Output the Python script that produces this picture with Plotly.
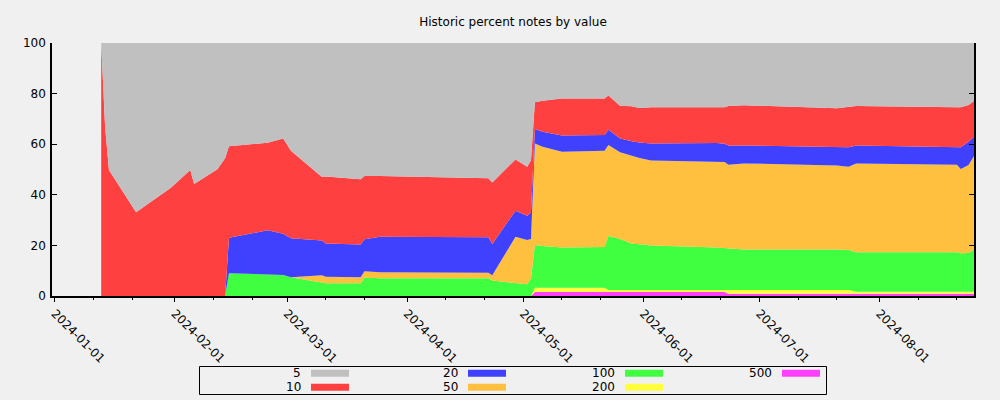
import plotly.graph_objects as go

# ---------------- data ----------------
dates = ["2024-01-13", "2024-01-14", "2024-01-15", "2024-01-22", "2024-01-31",
         "2024-02-05", "2024-02-06", "2024-02-12", "2024-02-14", "2024-02-15",
         "2024-02-25", "2024-02-29", "2024-03-02", "2024-03-10", "2024-03-11",
         "2024-03-20", "2024-03-21", "2024-03-25", "2024-04-22", "2024-04-23",
         "2024-04-29", "2024-05-02", "2024-05-03", "2024-05-04", "2024-05-06",
         "2024-05-11", "2024-05-22", "2024-05-23", "2024-05-26", "2024-05-29",
         "2024-05-31", "2024-06-03", "2024-06-20", "2024-06-22", "2024-06-23",
         "2024-06-27", "2024-07-21", "2024-07-24", "2024-07-26", "2024-08-21",
         "2024-08-22", "2024-08-24", "2024-08-25 10:00"]

v500 = [0] * 23 + [1.6] * 11 + [0.9] * 9
v200 = [0] * 23 + [1.7] * 4 + [0.8] * 7 + [1.5] * 4 + [0.8] * 5
v100 = [0] * 9 + [9.0, 8.6, 8.3, 7.4, 5.3, 5.0, 5.0, 7.2, 7.0, 7.0, 6.1, 5.1, 4.6, 7.0,
                  16.9, 16.5, 15.9, 16.1, 21.3, 20.1, 18.4, 18.1, 17.6, 16.8, 16.6,
                  16.5, 16.0, 16.0, 15.8, 15.6, 15.6, 15.2, 15.3, 16.7]
v50 = [0] * 9 + [0, 0, 0, 0, 2.9, 2.6, 2.4, 2.6, 2.4, 2.2, 2.1, 18.3, 17.5, 15.5,
                 40.1, 39.2, 37.8, 38.0, 36.0, 34.3, 34.5, 34.0, 33.6, 33.9, 34.0,
                 33.0, 34.0, 33.2, 32.9, 35.1, 34.6, 33.3, 34.8, 36.9]
v20 = [0] * 9 + [14.0, 17.4, 16.3, 15.4, 13.7, 13.2, 13.0, 12.6, 14.0, 14.0, 12.4, 10.3, 9.6, 10.5,
                 5.7, 5.9, 6.4, 6.2, 6.0, 5.5, 5.9, 6.2, 6.7, 7.4, 7.2,
                 7.6, 7.1, 7.3, 7.7, 7.1, 7.1, 8.6, 9.2, 7.6]
v10 = [100, 67, 49.8, 33.1, 42.8, 49.8, 44.3, 50.1, 54.4, 36.2, 34.6, 37.7, 34.6, 25.1,
       26.4, 25.7, 25.0, 24.0, 23.3, 24.3, 20.3, 19.4, 20.7, 10.6, 12.3, 14.7, 14.5,
       13.5, 12.9, 13.8, 13.6, 14.3, 14.1, 14.4, 15.6, 15.9, 15.3, 15.8, 15.6, 15.6,
       15.8, 14.5, 14.2]
v5 = [0, 33, 50.2, 66.9, 57.2, 50.2, 55.7, 49.9, 45.6, 40.8, 39.4, 37.7, 42.6, 53.0,
      52.8, 53.9, 52.6, 52.6, 53.5, 55.1, 46.0, 48.9, 46.3, 23.4, 22.8, 21.9, 21.9,
      20.8, 24.8, 25.0, 25.7, 25.4, 25.4, 25.4, 24.9, 24.6, 25.8, 25.4, 24.9, 25.4,
      25.4, 24.5, 22.9]

names = ["500", "200", "100", "50", "20", "10", "5"]          # bottom -> top
series = [v500, v200, v100, v50, v20, v10, v5]
colors = ["#ff40ff", "#ffff40", "#40ff40", "#ffc040", "#4040ff", "#ff4040", "#c0c0c0"]

major_ticks = ["2024-01-01", "2024-02-01", "2024-03-01", "2024-04-01",
               "2024-05-01", "2024-06-01", "2024-07-01", "2024-08-01"]
minor_ticks = [f"2024-{m:02d}-{d}" for m in range(1, 9) for d in (11, 21)]
x_range = ["2023-12-31 07:00", "2024-08-25 10:00"]

# ---------------- layout constants ----------------
W, H = 1000, 400
L, R, T, B = 52, 26, 43, 104
FONT = "DejaVu Sans"

fig = go.Figure()
for name, vals, col in zip(names, series, colors):
    fig.add_trace(go.Scatter(
        x=dates, y=vals, name=name, mode="lines",
        stackgroup="one", groupnorm="percent",
        line=dict(width=0, color=col), fillcolor=col,
        showlegend=False))

def px_x(px):
    return (px - L) / (W - L - R)

def px_y(py):
    return (H - B - py) / (H - T - B)

# custom legend (label right, swatch to its right) in a box
legend_order = ["5", "10", "20", "50", "100", "200", "500"]
shapes = [dict(type="rect", xref="paper", yref="paper",
               x0=px_x(199.5), x1=px_x(826.5), y0=px_y(366.5), y1=px_y(394.5),
               line=dict(color="black", width=1), fillcolor="rgba(0,0,0,0)")]
annotations = []
for i, nm in enumerate(legend_order):
    col_i, row_i = i // 2, i % 2
    tx = 303 + 157 * col_i
    cy = 373.3 + 14 * row_i
    c = colors[names.index(nm)]
    annotations.append(dict(xref="paper", yref="paper", x=px_x(tx), y=px_y(cy),
                            text=nm, showarrow=False, xanchor="right", yanchor="middle",
                            font=dict(family=FONT, size=12, color="black")))
    shapes.append(dict(type="rect", xref="paper", yref="paper",
                       x0=px_x(tx + 8), x1=px_x(tx + 46),
                       y0=px_y(cy + 3.5), y1=px_y(cy - 3.5),
                       line=dict(width=0), fillcolor=c))

fig.update_layout(
    width=W, height=H,
    margin=dict(l=L, r=R, t=T, b=B, autoexpand=False),
    paper_bgcolor="#f0f0f0", plot_bgcolor="#f0f0f0",
    font=dict(family=FONT, size=12, color="black"),
    title=dict(text="Historic percent notes by value", x=0.5, xref="paper",
               y=1 - 22 / H, yanchor="middle",
               font=dict(family=FONT, size=12, color="black")),
    showlegend=False,
    shapes=shapes, annotations=annotations,
    xaxis=dict(type="date", range=x_range, tickmode="array", tickvals=major_ticks,
               ticktext=major_ticks, tickangle=45, ticks="outside", ticklen=4,
               tickcolor="black", showline=True, linecolor="black", linewidth=1.5,
               showgrid=False, zeroline=False, automargin=False,
               tickfont=dict(family=FONT, size=12, color="black"),
               minor=dict(tickmode="array", tickvals=minor_ticks, ticks="outside",
                          ticklen=2, tickcolor="black", showgrid=False)),
    yaxis=dict(range=[0, 100], tickmode="linear", tick0=0, dtick=20,
               ticks="inside", ticklen=5, tickcolor="black", mirror="ticks",
               showline=True, linecolor="black", linewidth=1.5,
               showgrid=False, zeroline=False, automargin=False,
               ticklabelstandoff=2,
               tickfont=dict(family=FONT, size=12, color="black")),
)

fig.write_html("out.html",
               config={"displayModeBar": False},
               post_script="document.body.style.margin='0px';"
                           "document.body.style.background='#f0f0f0';")
